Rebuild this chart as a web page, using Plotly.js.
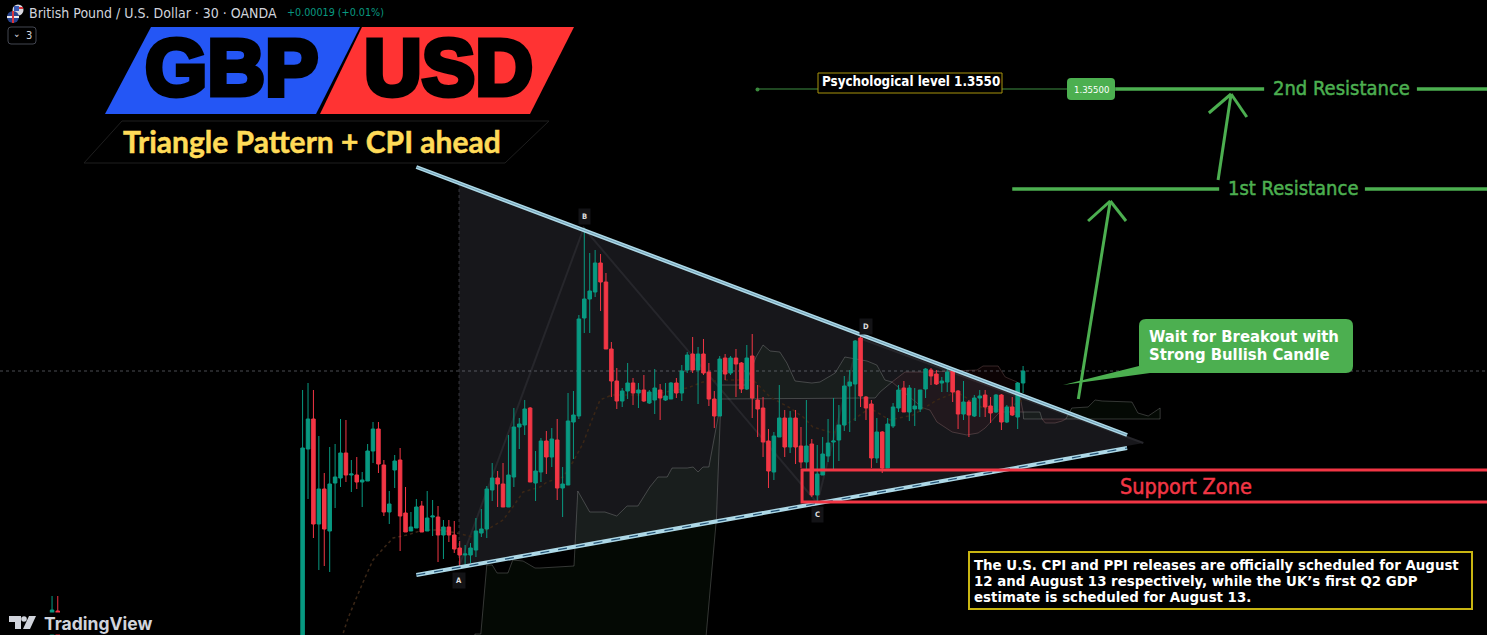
<!DOCTYPE html>
<html>
<head>
<meta charset="utf-8">
<script src="https://cdn.plot.ly/plotly-3.0.1.min.js"></script>
<style>
html,body{margin:0;padding:0;background:#000;overflow:hidden}
#chart{width:1487px;height:635px}
.annotation[data-index="0"] text,.annotation[data-index="1"] text{stroke:#000;stroke-width:5px}
.annotation[data-index="2"] text{stroke:#ffdb58;stroke-width:0.5px}
.annotation[data-index="9"] text,.annotation[data-index="10"] text{stroke:#4caf50;stroke-width:0.5px}
.annotation[data-index="13"] text{stroke:#f23645;stroke-width:0.5px}
</style>
</head>
<body>
<div id="chart"></div>
<script>
const barIndex=[-46.25,-45.2,0,1,2,3,4,5,6,7,8,9,10,11,12,13,14,15,16,17,18,19,20,21,22,23,24,25,26,27,28,29,30,31,32,33,34,35,36,37,38,39,40,41,42,43,44,45,46,47,48,49,50,51,52,53,54,55,56,57,58,59,60,61,62,63,64,65,66,67,68,69,70,71,72,73,74,75,76,77,78,79,80,81,82,83,84,85,86,87,88,89,90,91,92,93,94,95,96,97,98,99,100,101,102,103,104,105,106,107,108,109,110,111,112,113,114,115,116,117,118,119,120,121,122,123,124,125,126,127,128,129,130,131,132,133];
const open=[1.33296,1.33412,1.33056,1.34060,1.34180,1.33760,1.33900,1.33732,1.33924,1.33944,1.34044,1.33956,1.33956,1.33928,1.33932,1.34052,1.34140,1.33996,1.33808,1.33976,1.34016,1.33804,1.33732,1.33744,1.33832,1.33732,1.33788,1.33788,1.33716,1.33748,1.33716,1.33664,1.33636,1.33636,1.33656,1.33724,1.33740,1.33896,1.33944,1.33920,1.33828,1.33948,1.34148,1.34156,1.34224,1.33924,1.33968,1.34092,1.34028,1.34096,1.33904,1.33916,1.34168,1.34192,1.34584,1.34660,1.34688,1.34804,1.34728,1.34460,1.34332,1.34252,1.34292,1.34324,1.34284,1.34296,1.34244,1.34256,1.34296,1.34256,1.34260,1.34324,1.34284,1.34376,1.34440,1.34376,1.34440,1.34368,1.34260,1.34192,1.34424,1.34364,1.34424,1.34404,1.34300,1.34432,1.34256,1.34224,1.34092,1.33968,1.34108,1.34184,1.34068,1.34184,1.34072,1.34008,1.34080,1.33876,1.33956,1.34032,1.34088,1.34096,1.34156,1.34312,1.34320,1.34504,1.34268,1.34240,1.34024,1.34128,1.33984,1.34152,1.34224,1.34304,1.34208,1.34220,1.34220,1.34300,1.34376,1.34360,1.34324,1.34328,1.34372,1.34292,1.34200,1.34248,1.34192,1.34264,1.34276,1.34232,1.34208,1.34276,1.34168,1.34228,1.34188,1.34324];
const high=[1.33472,1.33472,1.34296,1.34324,1.34296,1.34112,1.33964,1.34068,1.34080,1.34180,1.34176,1.34016,1.34028,1.33968,1.34080,1.34168,1.34168,1.34016,1.33892,1.34036,1.34064,1.33908,1.33808,1.33860,1.33852,1.33892,1.33856,1.33832,1.33776,1.33776,1.33772,1.33692,1.33676,1.33684,1.33784,1.33820,1.33912,1.34004,1.33972,1.34004,1.34116,1.34224,1.34184,1.34256,1.34228,1.34052,1.34104,1.34132,1.34144,1.34180,1.33988,1.34284,1.34292,1.34596,1.34944,1.34844,1.34856,1.34840,1.34764,1.34488,1.34384,1.34304,1.34404,1.34344,1.34324,1.34356,1.34296,1.34380,1.34320,1.34324,1.34328,1.34344,1.34396,1.34448,1.34508,1.34468,1.34500,1.34404,1.34292,1.34432,1.34440,1.34432,1.34460,1.34408,1.34476,1.34520,1.34316,1.34268,1.34140,1.34128,1.34316,1.34216,1.34212,1.34216,1.34148,1.34256,1.34100,1.34076,1.34108,1.34180,1.34264,1.34236,1.34352,1.34376,1.34496,1.34516,1.34272,1.34256,1.34184,1.34132,1.34184,1.34244,1.34316,1.34332,1.34316,1.34304,1.34296,1.34384,1.34384,1.34376,1.34348,1.34388,1.34384,1.34296,1.34332,1.34256,1.34276,1.34296,1.34296,1.34268,1.34280,1.34280,1.34236,1.34268,1.34328,1.34392];
const low=[1.33256,1.33216,1.33016,1.33860,1.33704,1.33576,1.33592,1.33568,1.33824,1.33908,1.33928,1.33888,1.33900,1.33828,1.33932,1.34004,1.33964,1.33792,1.33760,1.33904,1.33652,1.33728,1.33732,1.33744,1.33728,1.33732,1.33712,1.33608,1.33620,1.33688,1.33644,1.33584,1.33588,1.33604,1.33628,1.33708,1.33704,1.33852,1.33828,1.33828,1.33828,1.33908,1.34060,1.34116,1.33928,1.33852,1.33928,1.33960,1.33988,1.33856,1.33788,1.33916,1.34020,1.34180,1.34524,1.34524,1.34668,1.34612,1.34460,1.34268,1.34220,1.34228,1.34260,1.34236,1.34224,1.34248,1.34240,1.34200,1.34176,1.34252,1.34260,1.34264,1.34252,1.34364,1.34364,1.34240,1.34356,1.34232,1.34144,1.34192,1.34336,1.34356,1.34268,1.34284,1.34296,1.34184,1.34108,1.34028,1.33904,1.33936,1.34108,1.34028,1.34044,1.34000,1.33984,1.33976,1.33868,1.33840,1.33956,1.34008,1.33976,1.34012,1.34132,1.34128,1.34172,1.34228,1.34176,1.33984,1.34004,1.33964,1.33984,1.34144,1.34208,1.34208,1.34172,1.34152,1.34208,1.34264,1.34316,1.34316,1.34288,1.34288,1.34248,1.34140,1.34176,1.34108,1.34188,1.34188,1.34188,1.34164,1.34204,1.34136,1.34164,1.34192,1.34140,1.34284];
const close=[1.33416,1.33256,1.34064,1.34180,1.33760,1.33900,1.33740,1.33920,1.33948,1.34044,1.33956,1.33960,1.33928,1.33936,1.34052,1.34140,1.34000,1.33808,1.33840,1.34012,1.33792,1.33728,1.33748,1.33828,1.33728,1.33784,1.33792,1.33716,1.33748,1.33716,1.33660,1.33636,1.33640,1.33664,1.33732,1.33740,1.33900,1.33944,1.33920,1.33828,1.33956,1.34148,1.34160,1.34220,1.33928,1.33972,1.34092,1.34028,1.34100,1.33904,1.33920,1.34172,1.34196,1.34580,1.34660,1.34692,1.34804,1.34728,1.34460,1.34332,1.34252,1.34292,1.34324,1.34284,1.34296,1.34252,1.34288,1.34304,1.34264,1.34272,1.34324,1.34284,1.34372,1.34436,1.34376,1.34440,1.34364,1.34260,1.34192,1.34420,1.34360,1.34424,1.34400,1.34300,1.34424,1.34264,1.34220,1.34088,1.33972,1.34112,1.34184,1.34068,1.34184,1.34068,1.34008,1.34072,1.33876,1.33960,1.34040,1.34084,1.34092,1.34156,1.34312,1.34328,1.34492,1.34272,1.34224,1.34024,1.34128,1.33984,1.34160,1.34228,1.34296,1.34208,1.34304,1.34232,1.34296,1.34380,1.34352,1.34320,1.34332,1.34368,1.34288,1.34200,1.34248,1.34196,1.34264,1.34272,1.34228,1.34204,1.34276,1.34168,1.34228,1.34196,1.34324,1.34372];

const cloudUpperX=[31.8,32.9,34,35,35.9,37.9,38.8,40.7,42.9,43.8,50.1,50.8,53,55.8,58,59.9,61.9,64.1,65.6,67.3,68.2,71,72.1,73,73.9,75,76.7,77.1,81.7,82.4,83.7,85,86.3,88.1,89.4,90.9,94,95.5,97.4,98.3,100.1,104.2,106,107.5,108.8,111.2,114.9,124.5,125.6,128.4,129.7,131.9,133,136.1,136.5,138.9,140.9,142,145,146.3,147.6,153.1,154.2,156.1,158.3];
const cloudUpperY=[1.3332,1.3332,1.33596,1.33596,1.33564,1.33564,1.33616,1.33612,1.33584,1.33584,1.33592,1.33892,1.33808,1.33808,1.33792,1.33832,1.33832,1.33908,1.33948,1.33948,1.33984,1.33984,1.33988,1.33968,1.33988,1.33988,1.34188,1.34316,1.34316,1.34356,1.34428,1.34476,1.34452,1.34448,1.34404,1.34332,1.34324,1.34328,1.34352,1.34364,1.34428,1.34412,1.34396,1.34336,1.34328,1.34368,1.34368,1.34376,1.34392,1.34392,1.34348,1.34328,1.34208,1.34208,1.3418,1.3418,1.3418,1.34224,1.34228,1.34256,1.34252,1.34248,1.34204,1.34192,1.34224];
const cloudLowerX=[31.8,74,74.5,76.4,77.1,77.3,105.7,106.6,108.8,114.5,115.8,117.1,119.9,122.6,124.7,126,128.7,132.1,133,133.1,136.5,137.1,138.9,140.2,140.9,158.3];
const cloudLowerY=[1.33056,1.33056,1.33316,1.33784,1.34188,1.3426,1.34264,1.34288,1.34328,1.34224,1.34216,1.34168,1.34128,1.34116,1.34124,1.34144,1.34208,1.34208,1.34208,1.3418,1.3418,1.34164,1.34164,1.34172,1.3418,1.3418];
const cloudBreaks=[31.8,108.8,133,136.5,140.9,158.3];
const baseLineX=[7.5,8.4,10,11.5,13,14.3,16.7,19.3,22.2,25.4,28.5,31.3,34.6,37,38.8,40.7,43.8,45.1,48.1,49.9,51.8,53.4,54.9,57.1,64.1,71,73.9,78.4,83.2,86.3,90,92.4,94.2,97.9,101.6,104.7,108.4,112.7,117.1,120.8,125.6,129.3,133];
const baseLineY=[1.33324,1.33384,1.33468,1.33544,1.33616,1.33648,1.33704,1.33716,1.33736,1.33736,1.33724,1.33708,1.33744,1.33776,1.33828,1.33888,1.33908,1.33928,1.33948,1.34008,1.34084,1.34176,1.34256,1.34276,1.34276,1.34304,1.34328,1.34336,1.34336,1.34268,1.34224,1.34188,1.34148,1.34124,1.34176,1.34224,1.34176,1.34196,1.34256,1.34288,1.34224,1.34216,1.34256];
const patternAreaX=[28.9,155.2,28.9];
const patternAreaY=[1.35124,1.34084,1.33588];
const zigzagX=[28.9,51.9,95,102.7,155.2];
const zigzagY=[1.33592,1.34944,1.33844,1.34504,1.34084];
const upperTrendX=[21,152.2], upperTrendY=[1.35188,1.34116];
const lowerTrendX=[21,152.2], lowerTrendY=[1.33556,1.34064];
const lastPrice=1.34372, level2=1.355, level1=1.351;
const supportTop=1.33976, supportBottom=1.33848, supportStart=92.2;

const W=1487,H=635;
const px=x=>x/W, py=y=>1-y/H;
const xMin=-55.86,xMax=218.64;
const poly=(pts,fill,line,lw)=>({type:'path',xref:'paper',yref:'paper',path:'M'+pts.map(p=>px(p[0])+','+py(p[1])).join('L')+'Z',fillcolor:fill,line:{color:line||fill,width:lw===undefined?0:lw}});
const rrect=(x0,y0,x1,y1,r)=>['M',px(x0+r),py(y0),'L',px(x1-r),py(y0),'Q',px(x1),py(y0),px(x1),py(y0+r),'L',px(x1),py(y1-r),'Q',px(x1),py(y1),px(x1-r),py(y1),'L',px(x0+r),py(y1),'Q',px(x0),py(y1),px(x0),py(y1-r),'L',px(x0),py(y0+r),'Q',px(x0),py(y0),px(x0+r),py(y0),'Z'].join(' ');
const rr=(x0,y0,x1,y1,r,fill,line,lw)=>({type:'path',xref:'paper',yref:'paper',path:rrect(x0,y0,x1,y1,r),fillcolor:fill,line:{color:line||fill,width:lw||0}});
const circ=(cx,cy,r,fill)=>({type:'circle',xref:'paper',yref:'paper',x0:px(cx-r),x1:px(cx+r),y0:py(cy+r),y1:py(cy-r),fillcolor:fill,line:{width:0}});
const dline=(x0,y0,x1,y1,color,width,dash)=>({type:'line',xref:'x',yref:'y',x0,y0,x1,y1,line:{color,width,dash:dash||'solid'}});
const dataPath=(xs,ys,close)=>'M'+xs.map((v,i)=>v+','+ys[i]).join('L')+(close?'Z':'');
const below=(path,fill,color,width,dash)=>({type:'path',layer:'below',xref:'x',yref:'y',path,fillcolor:fill||'rgba(0,0,0,0)',line:{color:color||'rgba(0,0,0,0)',width:width||0,dash:dash||'solid'}});

const UI='"DejaVu Sans Condensed", "DejaVu Sans", sans-serif';
const T=(text,x,y,size,color,o)=>Object.assign({text,xref:'paper',yref:'paper',x:px(x),y:py(y),xanchor:'left',yanchor:'middle',showarrow:false,borderpad:0,font:{size,color,family:UI}},o||{});

const GREEN='#4caf50', RED='#f23645', BLUE='#add8e6';

const traces=[{type:'candlestick',x:barIndex,open,high,low,close,
  increasing:{line:{color:'#089981',width:1},fillcolor:'#089981'},
  decreasing:{line:{color:'#f23645',width:1},fillcolor:'#f23645'},
  hoverinfo:'skip',showlegend:false}];

const cloudShapes=[];
for(let s=0;s<cloudBreaks.length-1;s++){
  const a=cloudBreaks[s],b=cloudBreaks[s+1],isRed=(s===1||s===3);
  const ui=cloudUpperX.map((v,i)=>i).filter(i=>cloudUpperX[i]>=a&&cloudUpperX[i]<=b);
  const li=cloudLowerX.map((v,i)=>i).filter(i=>cloudLowerX[i]>=a&&cloudLowerX[i]<=b).reverse();
  cloudShapes.push(below(dataPath(ui.map(i=>cloudUpperX[i]).concat(li.map(i=>cloudLowerX[i])),ui.map(i=>cloudUpperY[i]).concat(li.map(i=>cloudLowerY[i])),true),
    isRed?'rgba(242,54,69,0.05)':'rgba(76,175,80,0.05)',isRed?'rgba(255,190,190,0.2)':'rgba(255,255,255,0.2)',1));
}

const shapes=[
 below(dataPath(patternAreaX,patternAreaY,true),'#17171b'),
 below(dataPath(zigzagX,zigzagY,false),null,'#26262b',2),
 ...cloudShapes,
 below(dataPath(baseLineX,baseLineY,false),null,'#3a2616',1.5,'3px,3px'),
 Object.assign(dline(xMin,lastPrice,xMax,lastPrice,'rgba(150,153,164,0.5)',1,'dot'),{layer:'below'}),
 Object.assign(dline(28.9,1.35124,28.9,1.33588,'#2a2a30',1.5,'dot'),{layer:'below'}),
 // trend lines
 dline(upperTrendX[0],upperTrendY[0],upperTrendX[1],upperTrendY[1],BLUE,4),
 dline(upperTrendX[0],upperTrendY[0],upperTrendX[1],upperTrendY[1],'rgba(70,120,150,0.6)',1),
 dline(lowerTrendX[0],lowerTrendY[0],lowerTrendX[1],lowerTrendY[1],BLUE,4),
 dline(lowerTrendX[0],lowerTrendY[0],lowerTrendX[1],lowerTrendY[1],'#1f4f73',1.2,'dash'),
 // support zone
 {type:'rect',xref:'x',yref:'y',x0:supportStart,x1:xMax+6,y0:supportBottom,y1:supportTop,fillcolor:'rgba(0,0,0,0)',line:{color:RED,width:3}},
 // resistance
 dline(83.9,level2,141.1,level2,'#2a5f2c',1.5),
 dline(150,level2,177.5,level2,GREEN,3.5),
 dline(205.7,level2,xMax,level2,GREEN,3.5),
 dline(131,level1,169.2,level1,GREEN,3.5),
 dline(196.1,level1,xMax,level1,GREEN,3.5),
 // arrows
 dline(143.2,1.3426,149.1,1.35052,GREEN,3),
 dline(145,1.34972,149.1,1.35052,GREEN,3),
 dline(152,1.34972,149.1,1.35052,GREEN,3),
 dline(169,1.35136,171.4,1.3548,GREEN,3),
 dline(167.3,1.35404,171.4,1.3548,GREEN,3),
 dline(174.3,1.35388,171.4,1.3548,GREEN,3),
 circ(757.5,89.5,2,'#3a8a3d'),
 // callout
 poly([[1139,366],[1063,385],[1150,373]],GREEN),
 rr(1139,319,1353,373,7,GREEN),
 rr(1067,78,1115,100,4,GREEN),
 // boxed labels
 {type:'rect',xref:'paper',yref:'paper',x0:px(818),x1:px(1002),y0:py(93),y1:py(73),fillcolor:'#000',line:{color:'#a8930c',width:1}},
 {type:'rect',xref:'paper',yref:'paper',x0:px(969),x1:px(1472),y0:py(609),y1:py(552),fillcolor:'#000',line:{color:'#c9b512',width:2}},
 // logo
 poly([[105,114],[151,27],[360,27],[316,114]],'#2456f5'),
 poly([[320,114],[362,27],[574,27],[530,114]],'#ff3333'),
 poly([[84,163],[122,121],[549,121],[505,163]],'#000','#1e1e1e',1),
 // interval box
 rr(8,27,36,44,3,'#000','#434651',1),
 // flags
 circ(18,10,5.5,'#d9d9e0'),
 poly([[14,6],[19,6],[19,11],[14,11]],'#3b5bb5'),
 poly([[19,7],[23,7],[23,9],[19,9]],'#d8343c'),
 circ(13,17,6,'#27438f'),
 poly([[7,16],[19,16],[19,18],[7,18]],'#e8e8ee'),
 poly([[12,11],[14,11],[14,23],[12,23]],'#d8343c'),
 // TradingView mark
 poly([[9,616],[21,616],[21,629],[15,629],[15,622],[9,622]],'#d1d4dc'),
 circ(24,619,2.8,'#d1d4dc'),
 poly([[29,616],[36,616],[30,629],[23,629]],'#d1d4dc')
];

const boldFont='"Liberation Sans", Arial, sans-serif';
const annotations=[
 T('GBP',232,68,80,'#000',{xanchor:'center',font:{size:80,color:'#000',family:boldFont,weight:700}}),
 T('USD',448,68,80,'#000',{xanchor:'center',font:{size:80,color:'#000',family:boldFont,weight:700}}),
 T('<b>Triangle Pattern + CPI ahead</b>',312,141,30,'#ffdb58',{xanchor:'center',font:{size:30,color:'#ffdb58',family:'Lato, sans-serif'}}),
 T('British Pound / U.S. Dollar · 30 · OANDA',28,13,14,'#d1d4dc'),
 T('+0.00019 (+0.01%)',286,13,10.7,'#089981'),
 T('⌄',12,34,10,'#d1d4dc'),
 T('3',25,35,11,'#d1d4dc'),
 T('<b>Psychological level 1.3550</b>',821,82,13.3,'#fff'),
 T('1.35500',1091,89,9.5,'#fff',{xanchor:'center'}),
 T('2nd Resistance',1341,88,20,GREEN,{xanchor:'center'}),
 T('1st Resistance',1292.5,188,20,GREEN,{xanchor:'center'}),
 T('<b>Wait for Breakout with</b>',1148,336,16.5,'#fff'),
 T('<b>Strong Bullish Candle</b>',1148,354,16.5,'#fff'),
 T('Support Zone',1186,486,21.5,RED,{xanchor:'center'}),
 T('<b>The U.S. CPI and PPI releases are officially scheduled for August</b>',973,565,14.85,'#fff'),
 T('<b>12 and August 13 respectively, while the UK’s first Q2 GDP</b>',973,581,14.85,'#fff'),
 T('<b>estimate is scheduled for August 13.</b>',973,597,14.85,'#fff'),
 T('<b>A</b>',459,580,7.5,'#e0e0e0',{xanchor:'center',bgcolor:'#131316',borderpad:3}),
 T('<b>B</b>',584,217,7.5,'#e0e0e0',{xanchor:'center',bgcolor:'#131316',borderpad:3}),
 T('<b>C</b>',817,514,7.5,'#e0e0e0',{xanchor:'center',bgcolor:'#131316',borderpad:3}),
 T('<b>D</b>',866,326,7.5,'#e0e0e0',{xanchor:'center',bgcolor:'#131316',borderpad:3}),
 T('<b>TradingView</b>',43,623.5,17.5,'#d1d4dc',{bgcolor:'#000',font:{size:17.5,color:'#d1d4dc',family:'Inter, sans-serif'}})
];

Plotly.newPlot('chart',traces,{
  width:W,height:H,margin:{l:0,r:0,t:0,b:0,pad:0},
  paper_bgcolor:'#000',plot_bgcolor:'#000',showlegend:false,boxgap:0.35,boxgroupgap:0,
  xaxis:{range:[xMin,xMax],visible:false,rangeslider:{visible:false},fixedrange:true},
  yaxis:{range:[1.33316,1.35856],visible:false,fixedrange:true},
  shapes,annotations
},{displayModeBar:false,staticPlot:true});
</script>
</body>
</html>
